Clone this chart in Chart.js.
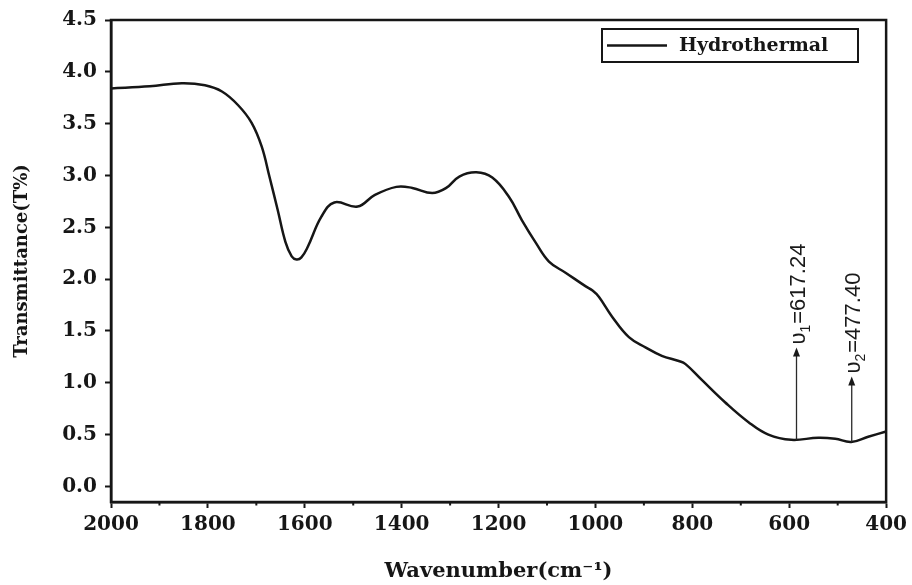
<!DOCTYPE html>
<html><head><meta charset="utf-8">
<script src="https://cdn.jsdelivr.net/npm/chart.js@4/dist/chart.umd.min.js"></script>
<style>html,body{margin:0;padding:0;background:#fff}#wrap{width:912px;height:585px;position:relative}</style>
</head><body><div id="wrap"><canvas id="c"></canvas></div>
<script>
const seriesName = 'Hydrothermal';
const wavenumbers = [2000,1920,1854,1806,1771,1738,1710,1689,1673,1656,1640,1627,1617,1607,1594,1566,1539,1491,1456,1411,1378,1337,1308,1281,1246,1213,1178,1152,1123,1096,1061,1020,1006,993,966,931,896,863,828,814,781,732,684,643,596,540,505,472,437,400];
const transmittance = [3.84,3.86,3.89,3.87,3.81,3.68,3.51,3.28,2.99,2.67,2.36,2.22,2.19,2.21,2.31,2.60,2.74,2.70,2.81,2.89,2.88,2.83,2.88,2.99,3.03,2.98,2.79,2.57,2.35,2.17,2.06,1.93,1.89,1.83,1.64,1.44,1.34,1.26,1.21,1.18,1.03,0.81,0.62,0.50,0.45,0.47,0.46,0.43,0.48,0.53];
const xTicks = [2000,1800,1600,1400,1200,1000,800,600,400];
const xMinorTicks = [1900,1700,1500,1300,1100,900,700,500];
const yTicks = [0,0.5,1.0,1.5,2.0,2.5,3.0,3.5,4.0,4.5];
const peakX = [585, 471];
const peakBase = [0.45, 0.43];
const peakTip = [1.34, 1.06];
const peakSub = ['1', '2'];
const peakValue = ['=617.24', '=477.40'];

const SERIF = '"DejaVu Serif", "Liberation Serif", serif';
const INK = '#161616';

const decor = {
  id: 'decor',
  afterDatasetsDraw(chart) {
    const {ctx, chartArea: a, scales: {x, y}} = chart;
    ctx.save();
    ctx.strokeStyle = INK; ctx.lineWidth = 2.5;
    ctx.strokeRect(a.left, a.top, a.right - a.left, a.bottom - a.top);
    ctx.lineWidth = 2;
    xMinorTicks.forEach(v => {
      const px = x.getPixelForValue(v);
      ctx.beginPath(); ctx.moveTo(px, a.bottom); ctx.lineTo(px, a.bottom + 3.5); ctx.stroke();
    });
    peakX.forEach((v, i) => {
      const px = x.getPixelForValue(v);
      const yb = y.getPixelForValue(peakBase[i]);
      const yt = y.getPixelForValue(peakTip[i]);
      ctx.strokeStyle = '#2a2a2a'; ctx.lineWidth = 1.3;
      ctx.beginPath(); ctx.moveTo(px, yb); ctx.lineTo(px, yt + 7); ctx.stroke();
      ctx.fillStyle = '#1a1a1a';
      ctx.beginPath(); ctx.moveTo(px, yt); ctx.lineTo(px - 3.5, yt + 9); ctx.lineTo(px + 3.5, yt + 9); ctx.closePath(); ctx.fill();
      ctx.save();
      ctx.translate(px + 8, yt - 3);
      ctx.rotate(-Math.PI / 2);
      ctx.textAlign = 'left'; ctx.textBaseline = 'alphabetic';
      ctx.fillStyle = '#1a1a1a';
      ctx.font = '22px "Liberation Sans", Arial, sans-serif';
      ctx.fillText('υ', 0, 0);
      let w = ctx.measureText('υ').width;
      ctx.font = '14px "Liberation Sans", Arial, sans-serif';
      ctx.fillText(peakSub[i], w, 5);
      w += ctx.measureText(peakSub[i]).width + 1;
      ctx.font = '22px "Liberation Sans", Arial, sans-serif';
      ctx.fillText(peakValue[i], w, 0);
      ctx.restore();
    });
    const lx = 602, ly = 29, lw = 256, lh = 33;
    ctx.strokeStyle = INK; ctx.lineWidth = 2;
    ctx.strokeRect(lx, ly, lw, lh);
    ctx.lineWidth = 2.5;
    ctx.beginPath(); ctx.moveTo(lx + 5, ly + lh / 2); ctx.lineTo(lx + 65, ly + lh / 2); ctx.stroke();
    ctx.fillStyle = INK;
    ctx.font = 'bold 19px ' + SERIF;
    ctx.textAlign = 'left'; ctx.textBaseline = 'middle';
    ctx.fillText(chart.data.datasets[0].label, lx + 77, ly + lh / 2 + 1);
    ctx.restore();
  }
};

new Chart(document.getElementById('c'), {
  type: 'line',
  data: {
    datasets: [{
      label: seriesName,
      data: wavenumbers.map((w, i) => ({x: w, y: transmittance[i]})),
      borderColor: INK,
      borderWidth: 2.5,
      pointRadius: 0,
      fill: false,
      tension: 0.4
    }]
  },
  options: {
    responsive: true,
    maintainAspectRatio: false,
    animation: false,
    layout: {padding: {top: 20, right: 24, left: 0, bottom: 0}},
    plugins: {legend: {display: false}, tooltip: {enabled: false}},
    scales: {
      x: {
        type: 'linear', reverse: true, min: 400, max: 2000,
        afterBuildTicks: s => { s.ticks = xTicks.map(v => ({value: v})); },
        afterFit: s => { s.height = 83; },
        ticks: {color: INK, font: {family: SERIF, size: 20, weight: 'bold'}, padding: 5, maxRotation: 0, autoSkip: false, callback: v => String(v)},
        grid: {drawOnChartArea: false, drawTicks: true, tickLength: 6, tickColor: INK, tickWidth: 2},
        border: {color: INK, width: 2.5},
        title: {display: true, text: 'Wavenumber(cm⁻¹)', color: INK, font: {family: SERIF, size: 21, weight: 'bold'}, padding: {top: 0, bottom: 1}}
      },
      y: {
        type: 'linear', min: -0.15, max: 4.5,
        afterBuildTicks: s => { s.ticks = yTicks.map(v => ({value: v})); },
        afterFit: s => { s.width = 111; },
        ticks: {color: INK, font: {family: SERIF, size: 20, weight: 'bold'}, padding: 8, callback: v => Number(v).toFixed(1)},
        grid: {drawOnChartArea: false, drawTicks: true, tickLength: 6, tickColor: INK, tickWidth: 2},
        border: {color: INK, width: 2.5},
        title: {display: true, text: 'Transmittance(T%)', color: INK, font: {family: SERIF, size: 18, weight: 'bold'}, padding: {top: 12, bottom: 0}}
      }
    }
  },
  plugins: [decor]
});
</script>
</body></html>
